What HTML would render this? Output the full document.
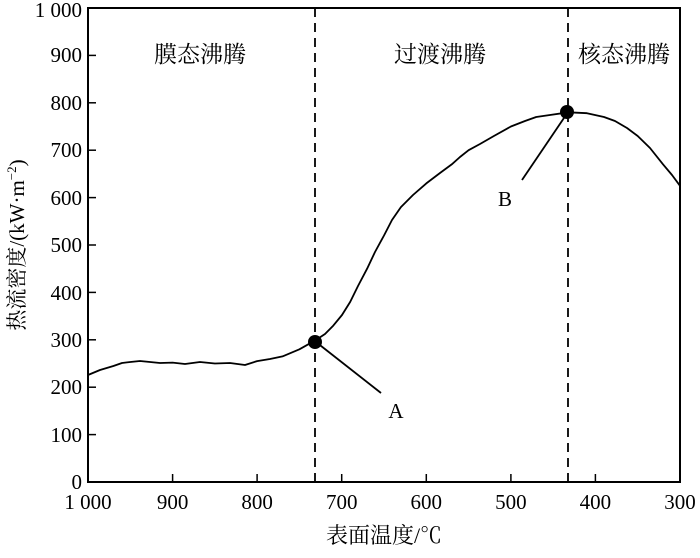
<!DOCTYPE html>
<html><head><meta charset="utf-8"><style>
body{margin:0;background:#fff}
svg text{font-family:"Liberation Serif","Noto Serif CJK SC",serif;fill:#000}
</style></head><body>
<svg width="700" height="553" viewBox="0 0 700 553" xmlns="http://www.w3.org/2000/svg">
<rect x="88" y="8" width="592" height="474" fill="none" stroke="#000" stroke-width="2"/>
<g stroke="#000" stroke-width="1.5">
<line x1="88" y1="55.4" x2="96" y2="55.4"/><line x1="88" y1="102.8" x2="96" y2="102.8"/>
<line x1="88" y1="150.2" x2="96" y2="150.2"/><line x1="88" y1="197.6" x2="96" y2="197.6"/>
<line x1="88" y1="245" x2="96" y2="245"/><line x1="88" y1="292.4" x2="96" y2="292.4"/>
<line x1="88" y1="339.8" x2="96" y2="339.8"/><line x1="88" y1="387.2" x2="96" y2="387.2"/>
<line x1="88" y1="434.6" x2="96" y2="434.6"/>
<line x1="172.6" y1="482" x2="172.6" y2="474"/><line x1="257.1" y1="482" x2="257.1" y2="474"/>
<line x1="341.7" y1="482" x2="341.7" y2="474"/><line x1="426.3" y1="482" x2="426.3" y2="474"/>
<line x1="510.9" y1="482" x2="510.9" y2="474"/><line x1="595.4" y1="482" x2="595.4" y2="474"/>
</g>
<g stroke="#000" stroke-width="1.8" stroke-dasharray="9,6">
<line x1="315" y1="8" x2="315" y2="482"/><line x1="568" y1="8" x2="568" y2="482"/>
</g>
<g font-size="21" text-anchor="end">
<text x="82" y="17">1 000</text><text x="82" y="62">900</text><text x="82" y="110">800</text>
<text x="82" y="157">700</text><text x="82" y="205">600</text><text x="82" y="252">500</text>
<text x="82" y="300">400</text><text x="82" y="347">300</text><text x="82" y="394">200</text>
<text x="82" y="442">100</text><text x="82" y="489">0</text>
</g>
<g font-size="21" text-anchor="middle">
<text x="88" y="509">1 000</text><text x="172.6" y="509">900</text><text x="257.1" y="509">800</text>
<text x="341.7" y="509">700</text><text x="426.3" y="509">600</text><text x="510.9" y="509">500</text>
<text x="595.4" y="509">400</text><text x="680" y="509">300</text>
<text x="384" y="543" font-size="22">表面温度/℃</text>
<text x="200" y="62" font-size="23">膜态沸腾</text><text x="440" y="62" font-size="23">过渡沸腾</text><text x="624" y="62" font-size="23">核态沸腾</text>
<text x="396" y="418">A</text><text x="505" y="206">B</text>
<text transform="translate(24,245) rotate(-90)" font-size="21">热流密度/(kW·m<tspan font-size="13" dy="-8">−2</tspan><tspan dy="8">)</tspan></text>
</g>
<polyline fill="none" stroke="#000" stroke-width="1.8" stroke-linejoin="round" points="88,375 100,370 113.4,366 122,363 130.3,362 140,361 150,362 160,363 172.6,362.6 185,364 200,362 214.9,363.5 230,363 245,365 257.1,361.1 270,359 282.5,356.4 299.4,349.3 316.3,339.8 325,334 333.3,325.6 342,315 350.2,301.9 358,286 367.1,268.7 375,252 384,235.5 392,220 400.9,207.1 413,195 426.3,183.4 440,173 451.7,164.4 460,157 468.6,150.2 480,144 493.9,136 510.9,126.5 525,121 536.2,117 550,115 568.4,112.3 587,113.2 604,117 615,121 627,128 637.7,136 650,148 663.1,164.4 672,175 680,185.8"/>
<g stroke="#000" stroke-width="1.8">
<line x1="316" y1="342" x2="381" y2="393"/><line x1="566" y1="115" x2="522" y2="180"/>
</g>
<circle cx="315" cy="342" r="7" fill="#000"/><circle cx="567" cy="112" r="7" fill="#000"/>
</svg>
</body></html>
